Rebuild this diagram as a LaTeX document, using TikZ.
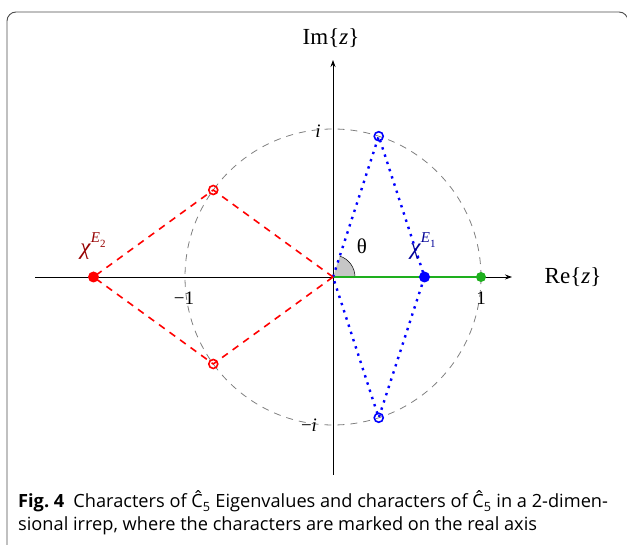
\documentclass[tikz,border=0pt]{standalone}
\usepackage{fontspec}
\setmainfont{Liberation Serif}
\newfontfamily\capfont{Open Sans}
\usetikzlibrary{arrows.meta}
\definecolor{grn}{RGB}{30,175,30}
\definecolor{dred}{RGB}{150,0,0}
\definecolor{dblue}{RGB}{0,0,150}
\newcommand{\chilabel}[1]{\textit{χ}\raisebox{0.5em}{\fontsize{15}{16}\selectfont\textit{E}\raisebox{-0.3em}{\fontsize{11}{12}\selectfont #1}}}
\tikzset{
  axis/.style={line width=0.8pt, -{Stealth[length=7pt,width=5pt]}},
  unitcirc/.style={gray, line width=0.8pt, dash pattern=on 7pt off 6pt},
  redline/.style={red, line width=1.6pt, dash pattern=on 7pt off 6pt},
  blueline/.style={blue, line width=2.4pt, dash pattern=on 2.4pt off 5.2pt},
  greenline/.style={grn, line width=2.6pt},
  ring/.style={circle, draw, line width=1.6pt, minimum size=9pt, inner sep=0pt},
  dot/.style={circle, fill, minimum size=11pt, inner sep=0pt},
  lbl/.style={font=\fontsize{19}{22}\selectfont, inner sep=0pt},
  axlbl/.style={font=\fontsize{23}{26}\selectfont, inner sep=0pt},
  caplbl/.style={font=\capfont\fontsize{18.2}{21}\selectfont, anchor=base west, inner sep=0pt}
}
\begin{document}
\begin{tikzpicture}[x=1pt,y=1pt]
\useasboundingbox (0,0) rectangle (627,544);
\clip (0,0) rectangle (627,544);
\draw[gray!60!black, line width=0.9pt, rounded corners=9pt] (7,-10) rectangle (628,532);
% axes
\coordinate (xl) at (35,267);
\coordinate (xr) at (512,267);
\coordinate (yb) at (333,69);
\coordinate (yt) at (333,484);
\draw[axis] (xl) -- (xr);
\draw[axis] (yb) -- (yt);
\node[axlbl] (im) at (331,506) {Im\{\textit{z}\}};
\node[axlbl] (re) at (573,267) {Re\{\textit{z}\}};
\begin{scope}[shift={(333,267)}]
  \coordinate (O) at (0,0);
  \draw[unitcirc] (O) circle[radius=148];
  \fill[gray!45] (O) -- (0:22) arc[start angle=0, end angle=72, radius=22] -- cycle;
  \draw[line width=0.5pt] (0:22) arc[start angle=0, end angle=72, radius=22];
  \coordinate (b1) at (72:148);
  \coordinate (b2) at (-72:148);
  \coordinate (bs) at (91.5,0);
  \coordinate (r1) at (144:148);
  \coordinate (r2) at (-144:148);
  \coordinate (rs) at (-239.5,0);
  \coordinate (one) at (148,0);
  \draw[greenline] (O) -- (one);
  \draw[blueline] (O) -- (b1) -- (bs) -- (b2) -- cycle;
  \draw[redline] (O) -- (r1) -- (rs) -- (r2) -- cycle;
  \node[ring, blue] (nb1) at (b1) {};
  \node[ring, blue] (nb2) at (b2) {};
  \node[ring, red] (nr1) at (r1) {};
  \node[ring, red] (nr2) at (r2) {};
  \node[dot, blue] (nbs) at (bs) {};
  \node[dot, red] (nrs) at (rs) {};
  \node[dot, grn, minimum size=10pt] (none) at (one) {};
  \node[lbl, font=\fontsize{21}{24}\selectfont] (th) at (29,31) {θ};
  \node[lbl, text=dblue, font=\fontsize{23}{26}\selectfont] (chi1) at (90,31) {\chilabel{1}};
  \node[lbl, text=dred, font=\fontsize{23}{26}\selectfont] (chi2) at (-240,31) {\chilabel{2}};
  \node[lbl] (m1) at (-149,-21) {−1};
  \node[lbl] (p1) at (148,-21) {1};
  \node[lbl] (ti) at (-15,146) {\textit{i}};
  \node[lbl] (tmi) at (-24,-148) {−\textit{i}};
\end{scope}
\node[caplbl] (c1) at (18,36) {\textbf{Fig.~4}\hspace{0.5em}Characters of Ĉ\textsubscript{5} Eigenvalues and characters of Ĉ\textsubscript{5} in a 2-dimen-};
\node[caplbl] (c2) at (18,13) {sional irrep, where the characters are marked on the real axis};
\end{tikzpicture}
\end{document}
